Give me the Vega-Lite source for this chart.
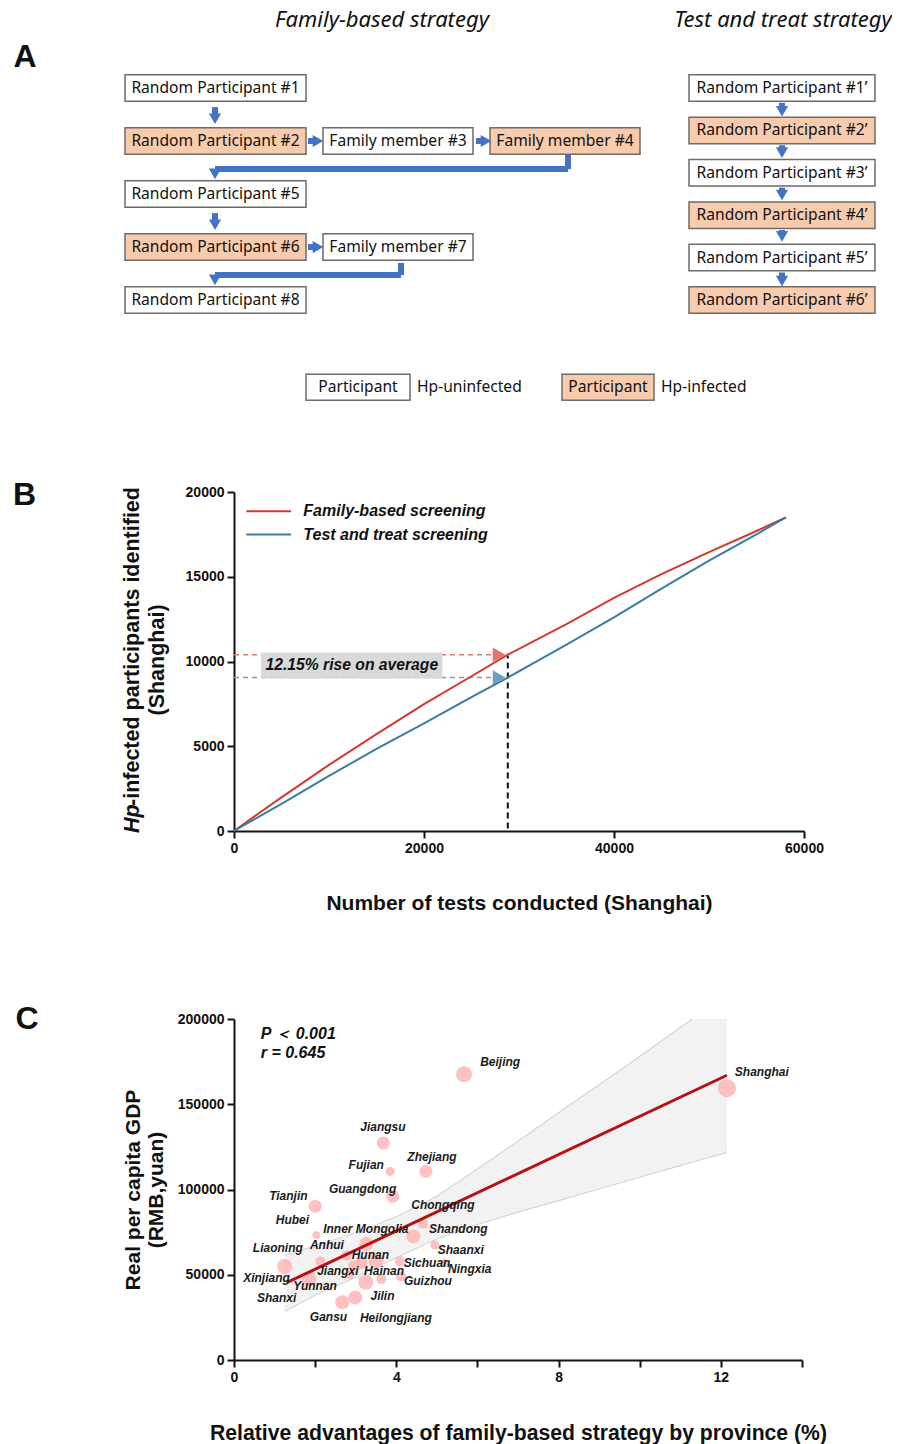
{
  "$schema": "https://vega.github.io/schema/vega-lite/v6.json",
  "padding": {"left": 12, "top": 0, "right": 0, "bottom": 0},
  "bounds": "flush",
  "spacing": 188,
  "config": {
    "view": {"stroke": null},
    "axis": {
      "grid": false,
      "domainColor": "#111111",
      "domainWidth": 2,
      "tickColor": "#111111",
      "tickWidth": 2,
      "tickSize": 7,
      "labelFont": "Liberation Sans",
      "labelFontWeight": "bold",
      "labelFontSize": 14,
      "labelColor": "#111111",
      "labelPadding": 3,
      "labelFlush": false,
      "titleFont": "Liberation Sans",
      "titleFontWeight": "bold",
      "titleColor": "#111111",
      "titleFontSize": 21
    }
  },
  "datasets": {
    "boxes": [
      {"label": "Random Participant #1", "status": "uninfected", "x0": 125, "x1": 306, "s0": 0.75, "s1": 1.25},
      {"label": "Random Participant #2", "status": "infected", "x0": 125, "x1": 306, "s0": 1.75, "s1": 2.25},
      {"label": "Family member #3", "status": "uninfected", "x0": 323, "x1": 473, "s0": 1.75, "s1": 2.25},
      {"label": "Family member #4", "status": "infected", "x0": 490, "x1": 640, "s0": 1.75, "s1": 2.25},
      {"label": "Random Participant #5", "status": "uninfected", "x0": 125, "x1": 306, "s0": 2.75, "s1": 3.25},
      {"label": "Random Participant #6", "status": "infected", "x0": 125, "x1": 306, "s0": 3.75, "s1": 4.25},
      {"label": "Family member #7", "status": "uninfected", "x0": 323, "x1": 473, "s0": 3.75, "s1": 4.25},
      {"label": "Random Participant #8", "status": "uninfected", "x0": 125, "x1": 306, "s0": 4.75, "s1": 5.25},
      {"label": "Random Participant #1’", "status": "uninfected", "x0": 689, "x1": 875, "s0": 0.75, "s1": 1.25},
      {"label": "Random Participant #2’", "status": "infected", "x0": 689, "x1": 875, "s0": 1.55, "s1": 2.05},
      {"label": "Random Participant #3’", "status": "uninfected", "x0": 689, "x1": 875, "s0": 2.35, "s1": 2.85},
      {"label": "Random Participant #4’", "status": "infected", "x0": 689, "x1": 875, "s0": 3.15, "s1": 3.65},
      {"label": "Random Participant #5’", "status": "uninfected", "x0": 689, "x1": 875, "s0": 3.95, "s1": 4.45},
      {"label": "Random Participant #6’", "status": "infected", "x0": 689, "x1": 875, "s0": 4.75, "s1": 5.25},
      {"label": "Participant", "status": "uninfected", "x0": 306, "x1": 410, "s0": 6.4, "s1": 6.89},
      {"label": "Participant", "status": "infected", "x0": 562, "x1": 654, "s0": 6.4, "s1": 6.89}
    ],
    "shafts": [
      {"x0": 215, "x1": 215, "s0": 1.36, "s1": 1.52},
      {"x0": 215, "x1": 215, "s0": 3.36, "s1": 3.52},
      {"x0": 568, "x1": 568, "s0": 2.25, "s1": 2.53},
      {"x0": 215, "x1": 568, "s0": 2.53, "s1": 2.53},
      {"x0": 215, "x1": 215, "s0": 2.53, "s1": 2.62},
      {"x0": 401, "x1": 401, "s0": 4.3, "s1": 4.53},
      {"x0": 215, "x1": 401, "s0": 4.53, "s1": 4.53},
      {"x0": 215, "x1": 215, "s0": 4.53, "s1": 4.62},
      {"x0": 308, "x1": 315, "s0": 2, "s1": 2},
      {"x0": 476, "x1": 483, "s0": 2, "s1": 2},
      {"x0": 308, "x1": 315, "s0": 4, "s1": 4},
      {"x0": 782, "x1": 782, "s0": 1.28, "s1": 1.4},
      {"x0": 782, "x1": 782, "s0": 2.08, "s1": 2.18},
      {"x0": 782, "x1": 782, "s0": 2.88, "s1": 2.98},
      {"x0": 782, "x1": 782, "s0": 3.68, "s1": 3.76},
      {"x0": 782, "x1": 782, "s0": 4.48, "s1": 4.6}
    ],
    "heads": [
      {"x": 215, "s": 1.58, "dir": "triangle-down"},
      {"x": 215, "s": 3.58, "dir": "triangle-down"},
      {"x": 215, "s": 2.62, "dir": "triangle-down"},
      {"x": 215, "s": 4.62, "dir": "triangle-down"},
      {"x": 318, "s": 2, "dir": "triangle-right"},
      {"x": 486, "s": 2, "dir": "triangle-right"},
      {"x": 318, "s": 4, "dir": "triangle-right"},
      {"x": 782, "s": 1.44, "dir": "triangle-down"},
      {"x": 782, "s": 2.22, "dir": "triangle-down"},
      {"x": 782, "s": 3.02, "dir": "triangle-down"},
      {"x": 782, "s": 3.8, "dir": "triangle-down"},
      {"x": 782, "s": 4.64, "dir": "triangle-down"}
    ],
    "screening": [
      {"tests": 0, "found": 0, "arm": "Family-based screening"},
      {"tests": 2500, "found": 1000, "arm": "Family-based screening"},
      {"tests": 5000, "found": 1980, "arm": "Family-based screening"},
      {"tests": 10000, "found": 3900, "arm": "Family-based screening"},
      {"tests": 15000, "found": 5720, "arm": "Family-based screening"},
      {"tests": 20000, "found": 7480, "arm": "Family-based screening"},
      {"tests": 25000, "found": 9130, "arm": "Family-based screening"},
      {"tests": 28820, "found": 10400, "arm": "Family-based screening"},
      {"tests": 35000, "found": 12200, "arm": "Family-based screening"},
      {"tests": 40000, "found": 13750, "arm": "Family-based screening"},
      {"tests": 45000, "found": 15150, "arm": "Family-based screening"},
      {"tests": 50000, "found": 16450, "arm": "Family-based screening"},
      {"tests": 55000, "found": 17700, "arm": "Family-based screening"},
      {"tests": 58100, "found": 18500, "arm": "Family-based screening"},
      {"tests": 0, "found": 0, "arm": "Test and treat screening"},
      {"tests": 2500, "found": 800, "arm": "Test and treat screening"},
      {"tests": 5000, "found": 1600, "arm": "Test and treat screening"},
      {"tests": 10000, "found": 3250, "arm": "Test and treat screening"},
      {"tests": 15000, "found": 4850, "arm": "Test and treat screening"},
      {"tests": 20000, "found": 6350, "arm": "Test and treat screening"},
      {"tests": 25000, "found": 7900, "arm": "Test and treat screening"},
      {"tests": 28820, "found": 9050, "arm": "Test and treat screening"},
      {"tests": 35000, "found": 11000, "arm": "Test and treat screening"},
      {"tests": 40000, "found": 12600, "arm": "Test and treat screening"},
      {"tests": 45000, "found": 14300, "arm": "Test and treat screening"},
      {"tests": 50000, "found": 15950, "arm": "Test and treat screening"},
      {"tests": 55000, "found": 17500, "arm": "Test and treat screening"},
      {"tests": 58100, "found": 18500, "arm": "Test and treat screening"}
    ],
    "provinces": [
      {"province": "Beijing", "advantage": 5.67, "gdp": 167600, "weight": 256},
      {"province": "Shanghai", "advantage": 12.15, "gdp": 159400, "weight": 324},
      {"province": "Jiangsu", "advantage": 3.68, "gdp": 127250, "weight": 169},
      {"province": "Zhejiang", "advantage": 4.73, "gdp": 110600, "weight": 169},
      {"province": "Fujian", "advantage": 3.85, "gdp": 110600, "weight": 81},
      {"province": "Guangdong", "advantage": 3.91, "gdp": 95900, "weight": 169},
      {"province": "Tianjin", "advantage": 2.0, "gdp": 90200, "weight": 169},
      {"province": "Chongqing", "advantage": 4.66, "gdp": 80000, "weight": 100},
      {"province": "Shandong", "advantage": 4.42, "gdp": 72500, "weight": 196},
      {"province": "Hubei", "advantage": 2.03, "gdp": 73100, "weight": 64},
      {"province": "Inner Mongolia", "advantage": 3.26, "gdp": 68000, "weight": 196},
      {"province": "Shaanxi", "advantage": 4.95, "gdp": 67450, "weight": 81},
      {"province": "Anhui", "advantage": 2.77, "gdp": 61200, "weight": 100},
      {"province": "Liaoning", "advantage": 2.13, "gdp": 57800, "weight": 100},
      {"province": "Xinjiang", "advantage": 1.25, "gdp": 54900, "weight": 225},
      {"province": "Yunnan", "advantage": 1.85, "gdp": 47500, "weight": 225},
      {"province": "Jiangxi", "advantage": 2.95, "gdp": 55300, "weight": 121},
      {"province": "Henan", "advantage": 3.14, "gdp": 56900, "weight": 144},
      {"province": "Hunan", "advantage": 3.5, "gdp": 58200, "weight": 225},
      {"province": "Shanxi", "advantage": 2.85, "gdp": 50000, "weight": 81},
      {"province": "Gansu", "advantage": 3.25, "gdp": 45700, "weight": 225},
      {"province": "Hainan", "advantage": 3.63, "gdp": 47450, "weight": 100},
      {"province": "Sichuan", "advantage": 4.09, "gdp": 57850, "weight": 100},
      {"province": "Guizhou", "advantage": 4.12, "gdp": 49000, "weight": 100},
      {"province": "Ningxia", "advantage": 5.19, "gdp": 56900, "weight": 64},
      {"province": "Jilin", "advantage": 2.99, "gdp": 36700, "weight": 196},
      {"province": "Heilongjiang", "advantage": 2.67, "gdp": 33900, "weight": 196}
    ],
    "provinceLabels": [
      {"name": "Beijing", "lx": 6.56, "ly": 174900},
      {"name": "Shanghai", "lx": 13.01, "ly": 169000},
      {"name": "Jiangsu", "lx": 3.67, "ly": 136900},
      {"name": "Zhejiang", "lx": 4.88, "ly": 119000},
      {"name": "Fujian", "lx": 3.26, "ly": 114100},
      {"name": "Guangdong", "lx": 3.17, "ly": 100200},
      {"name": "Tianjin", "lx": 1.34, "ly": 95900},
      {"name": "Chongqing", "lx": 5.15, "ly": 90800},
      {"name": "Hubei", "lx": 1.44, "ly": 82000},
      {"name": "Inner Mongolia", "lx": 3.25, "ly": 76900},
      {"name": "Shandong", "lx": 5.53, "ly": 76900},
      {"name": "Anhui", "lx": 2.29, "ly": 67450},
      {"name": "Liaoning", "lx": 1.08, "ly": 65700},
      {"name": "Shaanxi", "lx": 5.59, "ly": 64500},
      {"name": "Hunan", "lx": 3.36, "ly": 61400},
      {"name": "Sichuan", "lx": 4.76, "ly": 57100},
      {"name": "Ningxia", "lx": 5.81, "ly": 53100},
      {"name": "Jiangxi", "lx": 2.56, "ly": 52000},
      {"name": "Hainan", "lx": 3.7, "ly": 52000},
      {"name": "Xinjiang", "lx": 0.8, "ly": 48000},
      {"name": "Guizhou", "lx": 4.78, "ly": 46100},
      {"name": "Yunnan", "lx": 2.0, "ly": 43300},
      {"name": "Jilin", "lx": 3.66, "ly": 37450},
      {"name": "Shanxi", "lx": 1.05, "ly": 36300},
      {"name": "Gansu", "lx": 2.33, "ly": 25300},
      {"name": "Heilongjiang", "lx": 3.99, "ly": 24900}
    ],
    "band": [
      {"advantage": 1.25, "lo": 28400, "hi": 61400},
      {"advantage": 2, "lo": 38000, "hi": 67000},
      {"advantage": 3, "lo": 48500, "hi": 74500},
      {"advantage": 4, "lo": 60000, "hi": 84000},
      {"advantage": 5, "lo": 71000, "hi": 96000},
      {"advantage": 6, "lo": 79500, "hi": 112000},
      {"advantage": 7.04, "lo": 87000, "hi": 129000},
      {"advantage": 8, "lo": 93500, "hi": 145000},
      {"advantage": 9, "lo": 100300, "hi": 161500},
      {"advantage": 10, "lo": 107200, "hi": 178000},
      {"advantage": 11, "lo": 114000, "hi": 195000},
      {"advantage": 11.29, "lo": 116000, "hi": 200000},
      {"advantage": 12.15, "lo": 121800, "hi": 200000}
    ]
  },
  "vconcat": [
    {
      "width": 570,
      "height": 304,
      "layer": [
        {
          "data": {"name": "boxes"},
          "mark": {"type": "rect", "stroke": "#6b6b6b", "strokeWidth": 1.5},
          "encoding": {
            "x": {"field": "x0", "type": "quantitative", "scale": {"domain": [234, 804]}, "axis": null},
            "x2": {"field": "x1"},
            "y": {"field": "s0", "type": "quantitative", "scale": {"domain": [-0.66, 5.075], "reverse": true}, "axis": null},
            "y2": {"field": "s1"},
            "fill": {"field": "status", "type": "nominal", "legend": null, "scale": {"domain": ["uninfected", "infected"], "range": ["#ffffff", "#f8cbad"]}}
          }
        },
        {
          "data": {"name": "shafts"},
          "mark": {"type": "rule", "color": "#4472c4", "strokeWidth": 6},
          "encoding": {
            "x": {"field": "x0", "type": "quantitative", "scale": {"domain": [234, 804]}, "axis": null},
            "x2": {"field": "x1"},
            "y": {"field": "s0", "type": "quantitative", "scale": {"domain": [-0.66, 5.075], "reverse": true}, "axis": null},
            "y2": {"field": "s1"}
          }
        },
        {
          "data": {"name": "heads"},
          "mark": {"type": "point", "filled": true, "color": "#4472c4", "opacity": 1, "size": 150},
          "encoding": {
            "x": {"field": "x", "type": "quantitative", "scale": {"domain": [234, 804]}, "axis": null},
            "y": {"field": "s", "type": "quantitative", "scale": {"domain": [-0.66, 5.075], "reverse": true}, "axis": null},
            "shape": {"field": "dir", "type": "nominal", "scale": null}
          }
        },
        {
          "data": {"name": "boxes"},
          "transform": [{"calculate": "(datum.x0 + datum.x1) / 2", "as": "xc"}, {"calculate": "(datum.s0 + datum.s1) / 2", "as": "sc"}],
          "mark": {"type": "text", "font": "Noto Sans", "fontSize": 15.6, "color": "#111111"},
          "encoding": {
            "x": {"field": "xc", "type": "quantitative", "scale": {"domain": [234, 804]}, "axis": null},
            "y": {"field": "sc", "type": "quantitative", "scale": {"domain": [-0.66, 5.075], "reverse": true}, "axis": null},
            "text": {"field": "label"}
          }
        },
        {
          "data": {"values": [
            {"t": "Hp-uninfected", "x": 417, "s": 6.64},
            {"t": "Hp-infected", "x": 661, "s": 6.64}
          ]},
          "mark": {"type": "text", "font": "Noto Sans", "fontSize": 15.6, "color": "#111111", "align": "left"},
          "encoding": {
            "x": {"field": "x", "type": "quantitative", "scale": {"domain": [234, 804]}, "axis": null},
            "y": {"field": "s", "type": "quantitative", "scale": {"domain": [-0.66, 5.075], "reverse": true}, "axis": null},
            "text": {"field": "t"}
          }
        },
        {
          "data": {"values": [
            {"t": "Family-based strategy", "x": 382, "s": -0.28},
            {"t": "Test and treat strategy", "x": 783, "s": -0.28}
          ]},
          "mark": {"type": "text", "font": "Noto Sans", "fontSize": 22, "fontStyle": "italic", "color": "#111111"},
          "encoding": {
            "x": {"field": "x", "type": "quantitative", "scale": {"domain": [234, 804]}, "axis": null},
            "y": {"field": "s", "type": "quantitative", "scale": {"domain": [-0.66, 5.075], "reverse": true}, "axis": null},
            "text": {"field": "t"}
          }
        },
        {
          "data": {"values": [{"t": "A", "x": 25, "s": 0.41}]},
          "mark": {"type": "text", "font": "Liberation Sans", "fontSize": 32, "fontWeight": "bold", "color": "#111111"},
          "encoding": {
            "x": {"field": "x", "type": "quantitative", "scale": {"domain": [234, 804]}, "axis": null},
            "y": {"field": "s", "type": "quantitative", "scale": {"domain": [-0.66, 5.075], "reverse": true}, "axis": null},
            "text": {"field": "t"}
          }
        }
      ]
    },
    {
      "width": 570,
      "height": 339,
      "resolve": {"scale": {"color": "independent"}},
      "layer": [
        {
          "data": {"values": [
            {"tests": 0, "tests2": 28000, "found": 10400, "arm": "Family-based screening"},
            {"tests": 0, "tests2": 28000, "found": 9050, "arm": "Test and treat screening"}
          ]},
          "mark": {"type": "rule", "strokeWidth": 1.5, "strokeDash": [5, 4]},
          "encoding": {
            "x": {"field": "tests", "type": "quantitative"},
            "x2": {"field": "tests2"},
            "y": {"field": "found", "type": "quantitative"},
            "color": {"field": "arm", "type": "nominal", "legend": null, "scale": {"domain": ["Family-based screening", "Test and treat screening"], "range": ["#e2776e", "#6f9fbd"]}}
          }
        },
        {
          "data": {"values": [{"x0": 2857, "x1": 21940, "y0": 9000, "y1": 10530}]},
          "mark": {"type": "rect", "color": "#d9d9d9"},
          "encoding": {
            "x": {"field": "x0", "type": "quantitative"},
            "x2": {"field": "x1"},
            "y": {"field": "y0", "type": "quantitative"},
            "y2": {"field": "y1"}
          }
        },
        {
          "data": {"values": [
            {"tests": 27900, "found": 10400, "arm": "Family-based screening"},
            {"tests": 27900, "found": 9050, "arm": "Test and treat screening"}
          ]},
          "mark": {"type": "point", "shape": "triangle-right", "filled": true, "opacity": 1, "size": 210},
          "encoding": {
            "x": {"field": "tests", "type": "quantitative"},
            "y": {"field": "found", "type": "quantitative"},
            "color": {"field": "arm", "type": "nominal", "legend": null, "scale": {"domain": ["Family-based screening", "Test and treat screening"], "range": ["#e2776e", "#6f9fbd"]}}
          }
        },
        {
          "data": {"values": [{"tests": 28820, "y0": 150, "y1": 10350}]},
          "mark": {"type": "rule", "color": "#111111", "strokeWidth": 2, "strokeDash": [6, 4]},
          "encoding": {
            "x": {"field": "tests", "type": "quantitative"},
            "y": {"field": "y0", "type": "quantitative"},
            "y2": {"field": "y1"}
          }
        },
        {
          "data": {"name": "screening"},
          "mark": {"type": "line", "strokeWidth": 2},
          "encoding": {
            "x": {
              "field": "tests",
              "type": "quantitative",
              "scale": {"domain": [0, 60000], "nice": false},
              "axis": {"values": [0, 20000, 40000, 60000], "format": "d", "title": "Number of tests conducted (Shanghai)", "titlePadding": 37}
            },
            "y": {
              "field": "found",
              "type": "quantitative",
              "scale": {"domain": [0, 20000], "nice": false},
              "axis": {"values": [0, 5000, 10000, 15000, 20000], "format": "d", "title": null}
            },
            "color": {"field": "arm", "type": "nominal", "legend": null, "scale": {"domain": ["Family-based screening", "Test and treat screening"], "range": ["#d2382c", "#3a7ca5"]}}
          }
        },
        {
          "data": {"values": [
            {"x0": 1300, "x1": 6000, "y": 18860, "arm": "Family-based screening"},
            {"x0": 1300, "x1": 6000, "y": 17490, "arm": "Test and treat screening"}
          ]},
          "mark": {"type": "rule", "strokeWidth": 2},
          "encoding": {
            "x": {"field": "x0", "type": "quantitative"},
            "x2": {"field": "x1"},
            "y": {"field": "y", "type": "quantitative"},
            "color": {"field": "arm", "type": "nominal", "legend": null, "scale": {"domain": ["Family-based screening", "Test and treat screening"], "range": ["#d2382c", "#3a7ca5"]}}
          }
        },
        {
          "data": {"values": [
            {"x": 7300, "y": 18860, "arm": "Family-based screening"},
            {"x": 7300, "y": 17490, "arm": "Test and treat screening"}
          ]},
          "mark": {"type": "text", "align": "left", "font": "Liberation Sans", "fontSize": 16, "fontWeight": "bold", "fontStyle": "italic", "color": "#111111"},
          "encoding": {
            "x": {"field": "x", "type": "quantitative"},
            "y": {"field": "y", "type": "quantitative"},
            "text": {"field": "arm"}
          }
        },
        {
          "data": {"values": [{"t": "12.15% rise on average", "x": 12400, "y": 9770}]},
          "mark": {"type": "text", "font": "Liberation Sans", "fontSize": 15.7, "fontWeight": "bold", "fontStyle": "italic", "color": "#111111"},
          "encoding": {
            "x": {"field": "x", "type": "quantitative"},
            "y": {"field": "y", "type": "quantitative"},
            "text": {"field": "t"}
          }
        },
        {
          "data": {"values": [{"t": "Hp", "x": -10630, "y": -118}]},
          "mark": {"type": "text", "angle": 270, "align": "left", "font": "Liberation Sans", "fontSize": 21.5, "fontWeight": "bold", "fontStyle": "italic", "color": "#111111"},
          "encoding": {
            "x": {"field": "x", "type": "quantitative"},
            "y": {"field": "y", "type": "quantitative"},
            "text": {"field": "t"}
          }
        },
        {
          "data": {"values": [{"t": "-infected participants identified", "x": -10630, "y": 1475}]},
          "mark": {"type": "text", "angle": 270, "align": "left", "font": "Liberation Sans", "fontSize": 21.5, "fontWeight": "bold", "color": "#111111"},
          "encoding": {
            "x": {"field": "x", "type": "quantitative"},
            "y": {"field": "y", "type": "quantitative"},
            "text": {"field": "t"}
          }
        },
        {
          "data": {"values": [{"t": "(Shanghai)", "x": -7990, "y": 10090}]},
          "mark": {"type": "text", "angle": 270, "font": "Liberation Sans", "fontSize": 21.5, "fontWeight": "bold", "color": "#111111"},
          "encoding": {
            "x": {"field": "x", "type": "quantitative"},
            "y": {"field": "y", "type": "quantitative"},
            "text": {"field": "t"}
          }
        },
        {
          "data": {"values": [{"t": "B", "x": -22060, "y": 19820}]},
          "mark": {"type": "text", "font": "Liberation Sans", "fontSize": 32, "fontWeight": "bold", "color": "#111111"},
          "encoding": {
            "x": {"field": "x", "type": "quantitative"},
            "y": {"field": "y", "type": "quantitative"},
            "text": {"field": "t"}
          }
        }
      ]
    },
    {
      "width": 568,
      "height": 341,
      "layer": [
        {
          "data": {"name": "band"},
          "mark": {"type": "area", "color": "#f2f2f2"},
          "encoding": {
            "x": {"field": "advantage", "type": "quantitative"},
            "y": {"field": "lo", "type": "quantitative"},
            "y2": {"field": "hi"}
          }
        },
        {
          "data": {"name": "band"},
          "mark": {"type": "line", "color": "#d4d4d4", "strokeWidth": 1.2},
          "encoding": {
            "x": {"field": "advantage", "type": "quantitative"},
            "y": {"field": "lo", "type": "quantitative"}
          }
        },
        {
          "data": {"name": "band"},
          "transform": [{"filter": "datum.advantage <= 11.29"}],
          "mark": {"type": "line", "color": "#d4d4d4", "strokeWidth": 1.2},
          "encoding": {
            "x": {"field": "advantage", "type": "quantitative"},
            "y": {"field": "hi", "type": "quantitative"}
          }
        },
        {
          "data": {"name": "provinces"},
          "mark": {"type": "circle", "color": "#ffb0b0", "opacity": 0.8},
          "encoding": {
            "x": {
              "field": "advantage",
              "type": "quantitative",
              "scale": {"domain": [0, 14], "nice": false},
              "axis": {"values": [0, 2, 4, 6, 8, 10, 12, 14], "labelExpr": "datum.value % 4 === 0 ? datum.label : ''", "title": "Relative advantages of family-based strategy by province (%)", "titlePadding": 38, "titleFontSize": 21.2}
            },
            "y": {
              "field": "gdp",
              "type": "quantitative",
              "scale": {"domain": [0, 200000], "nice": false},
              "axis": {"values": [0, 50000, 100000, 150000, 200000], "format": "d", "title": ["Real per capita GDP", "(RMB,yuan)"], "titlePadding": 11}
            },
            "size": {"field": "weight", "type": "quantitative", "legend": null, "scale": {"domain": [0, 350], "range": [0, 350]}}
          }
        },
        {
          "data": {"values": [{"x0": 1.31, "y0": 45500, "x1": 12.15, "y1": 167000}]},
          "mark": {"type": "rule", "color": "#b80f0f", "strokeWidth": 3},
          "encoding": {
            "x": {"field": "x0", "type": "quantitative"},
            "y": {"field": "y0", "type": "quantitative"},
            "x2": {"field": "x1"},
            "y2": {"field": "y1"}
          }
        },
        {
          "data": {"name": "provinceLabels"},
          "mark": {"type": "text", "font": "Liberation Sans", "fontSize": 12, "fontWeight": "bold", "fontStyle": "italic", "color": "#1a1a1a"},
          "encoding": {
            "x": {"field": "lx", "type": "quantitative"},
            "y": {"field": "ly", "type": "quantitative"},
            "text": {"field": "name"}
          }
        },
        {
          "data": {"values": [
            {"t": "P ＜ 0.001", "x": 0.66, "y": 191200},
            {"t": "r  =  0.645", "x": 0.66, "y": 180000}
          ]},
          "mark": {"type": "text", "align": "left", "font": "Liberation Sans", "fontSize": 16, "fontWeight": "bold", "fontStyle": "italic", "color": "#111111"},
          "encoding": {
            "x": {"field": "x", "type": "quantitative"},
            "y": {"field": "y", "type": "quantitative"},
            "text": {"field": "t"}
          }
        },
        {
          "data": {"values": [{"t": "C", "x": -5.1, "y": 200000}]},
          "mark": {"type": "text", "font": "Liberation Sans", "fontSize": 32, "fontWeight": "bold", "color": "#111111"},
          "encoding": {
            "x": {"field": "x", "type": "quantitative"},
            "y": {"field": "y", "type": "quantitative"},
            "text": {"field": "t"}
          }
        }
      ]
    }
  ]
}
